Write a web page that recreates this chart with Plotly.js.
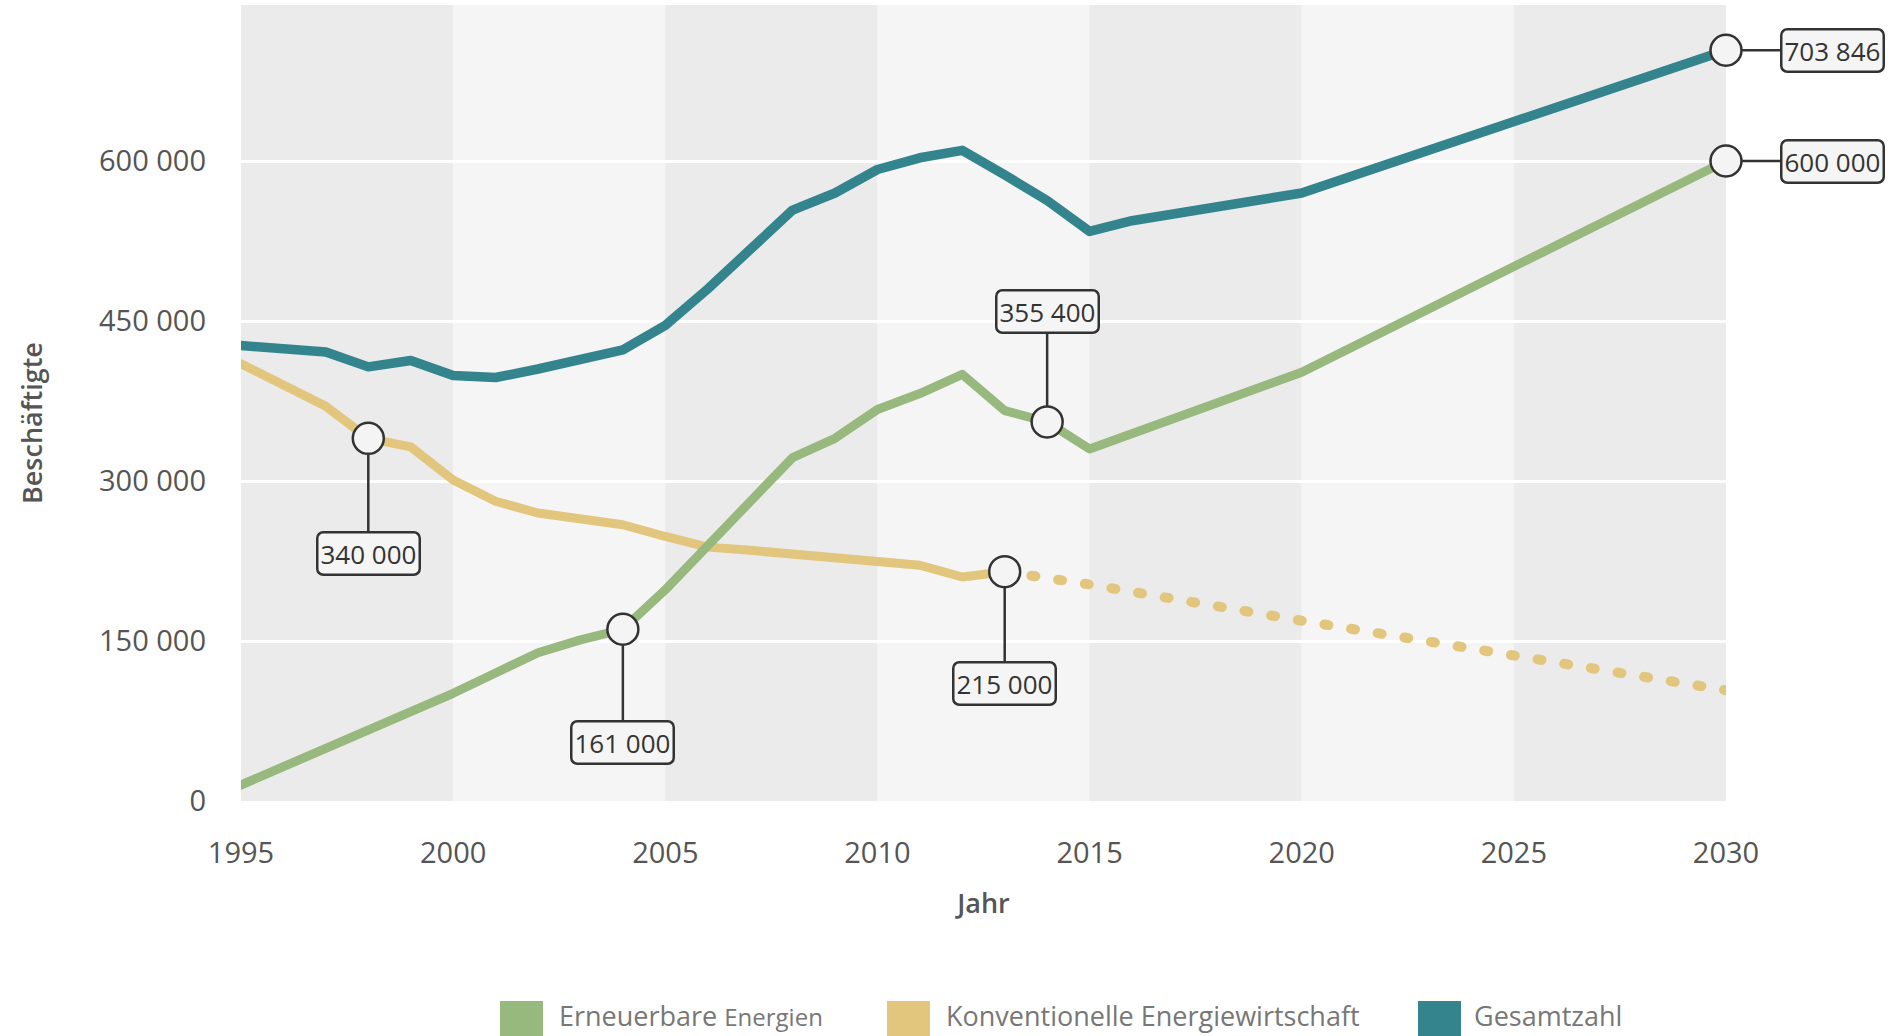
<!DOCTYPE html>
<html>
<head>
<meta charset="utf-8">
<script src="https://cdn.plot.ly/plotly-3.0.1.min.js"></script>
<style>
  html, body { margin: 0; padding: 0; background: #ffffff; }
  #chart { width: 1893px; height: 1036px; }
  .scatterlayer .js-line { stroke-linecap: round; stroke-linejoin: round; }
  .annotation rect.bg { rx: 6px; ry: 6px; }
</style>
</head>
<body>
<div id="chart"></div>
<script>
// ---------------- DATA ----------------
const seriesNames = ['Erneuerbare Energien', 'Konventionelle Energiewirtschaft', 'Gesamtzahl'];

const yearsEE = [1995, 1996, 1997, 1998, 1999, 2000, 2001, 2002, 2003, 2004, 2005, 2006, 2007, 2008, 2009, 2010, 2011, 2012, 2013, 2014, 2015, 2020, 2030];
const valuesEE = [15000, 32000, 50000, 67000, 84000, 101000, 120000, 139000, 151000, 161000, 198000, 240000, 280000, 322000, 340000, 367000, 382000, 400000, 366000, 355400, 330000, 402000, 600000];

const yearsKonv = [1995, 1996, 1997, 1998, 1999, 2000, 2001, 2002, 2003, 2004, 2005, 2006, 2007, 2008, 2009, 2010, 2011, 2012, 2013];
const valuesKonv = [410000, 390000, 370000, 340000, 332000, 301000, 281000, 270000, 265000, 259000, 248000, 238000, 235000, 231000, 229000, 225000, 221000, 210000, 215000];

const yearsKonvProg = [2013, 2015, 2020, 2030];
const valuesKonvProg = [215000, 203000, 169000, 103846];

const yearsGes = [1995, 1996, 1997, 1998, 1999, 2000, 2001, 2002, 2003, 2004, 2005, 2006, 2007, 2008, 2009, 2010, 2011, 2012, 2013, 2014, 2015, 2016, 2020, 2030];
const valuesGes = [427000, 424000, 421000, 407000, 413000, 399000, 397000, 405000, 414000, 423000, 446000, 480000, 517000, 554000, 570000, 592000, 603000, 610000, 587000, 563000, 534000, 544000, 570000, 703846];

const annYears = [1998, 2004, 2013, 2014, 2030, 2030];
const annValues = [340000, 161000, 215000, 355400, 703846, 600000];
const annLabels = ['340 000', '161 000', '215 000', '355 400', '703 846', '600 000'];

const xTickVals = [1995, 2000, 2005, 2010, 2015, 2020, 2025, 2030];
const xTickText = ['1995', '2000', '2005', '2010', '2015', '2020', '2025', '2030'];
const yTickVals = [0, 150000, 300000, 450000, 600000];
const yTickText = ['0', '150 000', '300 000', '450 000', '600 000'];

const xTitle = 'Jahr';
const yTitle = 'Beschäftigte';

// ---------------- STYLE / LAYOUT ----------------
const W = 1893, H = 1036;
const L = 241, R = 1726, T = 5, B = 801;
const plotW = R - L, plotH = B - T;
const yMax = plotH / 160 * 150000;
const fx = px => (px - L) / plotW;
const fy = py => (B - py) / plotH;

const cGreen = '#98b97e', cYellow = '#e3c67e', cTeal = '#34848e';
const colors = [cGreen, cYellow, cTeal];
const FONT = '"Open Sans", "Segoe UI", "DejaVu Sans", sans-serif';

const traces = [
  { x: yearsKonv, y: valuesKonv, type: 'scatter', mode: 'lines', name: seriesNames[1],
    line: { color: cYellow, width: 9 }, hoverinfo: 'skip' },
  { x: yearsKonvProg, y: valuesKonvProg, type: 'scatter', mode: 'lines', name: seriesNames[1] + ' (Prognose)',
    line: { color: cYellow, width: 10, dash: '4px,23px' }, hoverinfo: 'skip' },
  { x: yearsEE, y: valuesEE, type: 'scatter', mode: 'lines', name: seriesNames[0],
    line: { color: cGreen, width: 9 }, hoverinfo: 'skip' },
  { x: yearsGes, y: valuesGes, type: 'scatter', mode: 'lines', name: seriesNames[2],
    line: { color: cTeal, width: 9.5 }, hoverinfo: 'skip' },
  { x: annYears, y: annValues, type: 'scatter', mode: 'markers', name: 'Markierungen',
    marker: { size: 31, color: '#f4f4f4', line: { color: '#333333', width: 2.5 } },
    cliponaxis: false, hoverinfo: 'skip' }
];

// alternating bands (5-year)
const shapes = [];
for (let yr = 1995; yr < 2030; yr += 5) {
  const dark = ((yr - 1995) / 5) % 2 === 0;
  shapes.push({ type: 'rect', xref: 'x', yref: 'paper', x0: yr, x1: yr + 5, y0: 0, y1: 1,
    fillcolor: dark ? '#ebebeb' : '#f5f5f5', line: { width: 0 }, layer: 'below' });
}

// value labels
const annOffsets = [[0, 115], [0, 113], [0, 112], [0, -110], [106, 0], [106, 0]];
const annotations = annYears.map((yr, i) => ({
  x: yr, y: annValues[i], xref: 'x', yref: 'y', text: annLabels[i],
  showarrow: true, arrowhead: 0, arrowwidth: 2.5, arrowcolor: '#333333',
  ax: annOffsets[i][0], ay: annOffsets[i][1], standoff: 16,
  bgcolor: '#f5f5f5', bordercolor: '#333333', borderwidth: 2.5, borderpad: 2,
  font: { family: FONT, size: 26, color: '#333333' }
}));

// y axis title (placed to match the reference)
annotations.push({ xref: 'paper', yref: 'paper', x: fx(31), y: fy(423), textangle: -90,
  xanchor: 'center', yanchor: 'middle', showarrow: false, text: yTitle,
  font: { family: FONT, size: 27, color: '#555555', weight: 600 } });

// manual legend (big colour squares)
const legendSquareX = [500, 887, 1418];
const legendTextX = [557, 944, 1472];
const legendTexts = [
  'Erneuerbare <span style="font-size:24px">Energien</span>',
  seriesNames[1],
  seriesNames[2]
];
for (let i = 0; i < 3; i++) {
  shapes.push({ type: 'rect', xref: 'paper', yref: 'paper',
    x0: fx(legendSquareX[i]), x1: fx(legendSquareX[i] + 43), y0: fy(1001), y1: fy(1040),
    fillcolor: colors[i], line: { width: 0 } });
  annotations.push({ xref: 'paper', yref: 'paper', x: fx(legendTextX[i]), y: fy(1015),
    xanchor: 'left', yanchor: 'middle', showarrow: false, text: legendTexts[i],
    font: { family: FONT, size: 27, color: '#777777' } });
}

const layout = {
  width: W, height: H,
  margin: { l: L, r: W - R, t: T, b: H - B, pad: 0 },
  paper_bgcolor: '#ffffff',
  plot_bgcolor: '#f5f5f5',
  showlegend: false,
  font: { family: FONT, color: '#555555' },
  xaxis: {
    range: [1995, 2030], tickvals: xTickVals, ticktext: xTickText,
    showgrid: false, zeroline: false, showline: false, ticks: '',
    ticklabelstandoff: 32,
    tickfont: { family: FONT, size: 29, color: '#555555' },
    title: { text: xTitle, standoff: 24, font: { family: FONT, size: 27, color: '#555555', weight: 600 } },
    automargin: false, fixedrange: true
  },
  yaxis: {
    range: [0, yMax], tickvals: yTickVals, ticktext: yTickText,
    showgrid: true, gridcolor: '#ffffff', gridwidth: 3,
    zeroline: false, showline: false, ticks: '',
    ticklabelstandoff: 34,
    tickfont: { family: FONT, size: 29, color: '#555555' },
    automargin: false, fixedrange: true
  },
  shapes: shapes,
  annotations: annotations
};

Plotly.newPlot('chart', traces, layout, { staticPlot: true, displayModeBar: false });
</script>
</body>
</html>
